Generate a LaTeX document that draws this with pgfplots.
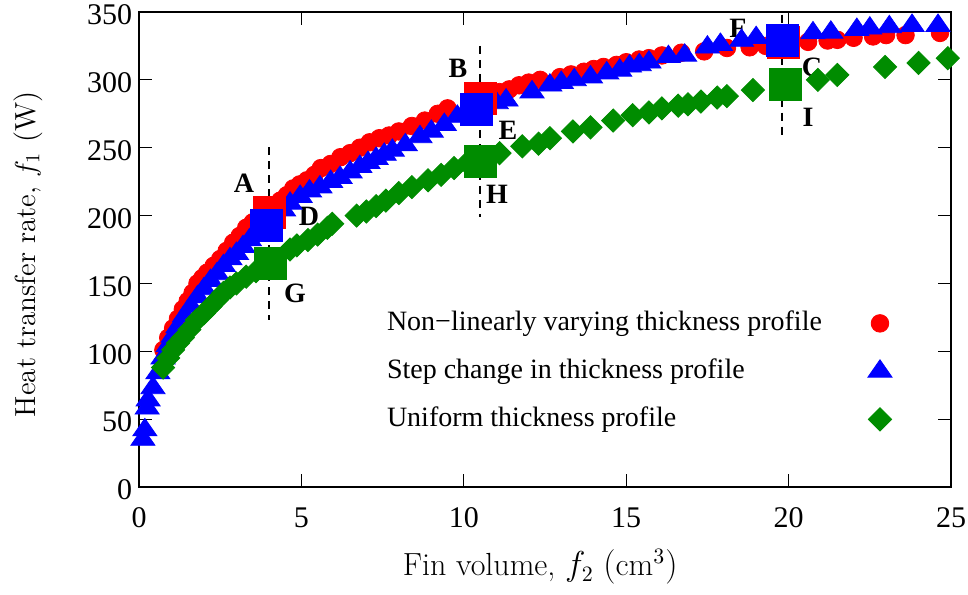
\documentclass[border=0pt]{standalone}
\usepackage{fontspec}
\usepackage{pgfplots}
\pgfplotsset{compat=1.18}
\newfontfamily\tms{Liberation Serif}
\definecolor{mygreen}{rgb}{0,0.55,0}
\begin{document}
\fontsize{14}{17}\selectfont
\begin{tikzpicture}
\begin{axis}[
 scale only axis, width=406pt, height=237.5pt,
 xmin=0, xmax=25, ymin=0, ymax=350,
 xtick={0,5,...,25}, ytick={0,50,...,350},
 tick align=inside, major tick length=6.5pt,
 tick style={black, line width=0.5pt},
 axis line style={line width=1pt},
 /pgf/number format/assume math mode=true,
 ticklabel style={font=\fontsize{15}{18}\tms, inner sep=0.5pt},
 xticklabel style={yshift=-9.8pt},
 yticklabel style={xshift=-2.8pt, yshift=-1.5pt},
 xlabel={Fin volume, $f_2$ $(\mathrm{cm}^3)$},
 ylabel={Heat transfer rate, $f_1$ (W)},
 every axis x label/.style={at={(axis description cs:0.494,-0.168)}, anchor=center, font=\fontsize{16}{19}\selectfont},
 every axis y label/.style={at={(axis description cs:-0.137,0.49)}, rotate=90, anchor=center, font=\fontsize{14.5}{17}\selectfont},
 clip=false,
 legend plot pos=right, legend cell align=left,
 legend style={draw=none, fill=none, font=\tms, inner sep=0pt,
   at={(axis cs:7.5,133.4)}, anchor=north west,
   row sep=7pt, column sep=21pt,
   nodes={text height=10pt, text depth=3pt, inner sep=2pt}},
]
% Non-linearly varying (red circles)
\addplot[only marks, mark=*, color=red, mark size=4.4pt, mark options={fill=red, draw=red}] coordinates {
(0.75,101) (0.9,110) (1.05,117) (1.2,124) (1.35,131) (1.5,137) (1.65,143) (1.8,150) (1.95,154)
(2.1,158) (2.3,163) (2.5,168) (2.7,174) (2.9,180) (3.1,185) (3.3,191) (3.5,195) (3.7,199)
(4.15,206) (4.35,211) (4.55,215) (4.75,220) (4.95,223) (5.17,226) (5.4,230) (5.6,235) (5.9,238)
(6.2,243) (6.5,246) (6.8,250) (7.1,254) (7.4,257) (7.7,259) (8.0,262) (8.4,266) (8.8,270)
(9.2,275) (9.5,279) (10.9,290) (11.1,291) (11.4,293) (11.7,296) (12.0,298) (12.35,300) (12.96,302)
(13.3,304) (13.7,306) (14.0,308) (14.3,309.5) (14.7,311) (15.0,313) (15.4,315) (15.7,316) (16.1,318)
(16.7,320) (17.4,321) (18.1,323.5) (18.8,324) (19.3,325) (20.6,328) (21.2,329) (21.5,329.5)
(22.0,331) (22.6,332) (23.0,333) (23.6,333) (24.66,334.6)
};
\addlegendentry{Non\textminus linearly varying thickness profile}
% Step change (blue triangles)
\addplot[only marks, mark=triangle*, color=blue, mark size=5.8pt, mark options={fill=blue, draw=blue, xscale=1.2}] coordinates {
(0.12,35) (0.18,42) (0.25,58) (0.28,64) (0.43,73) (0.58,84) (0.74,95) (0.9,104) (1.05,111)
(1.2,118) (1.4,126) (1.6,133) (1.8,140) (2.0,146) (2.2,152) (2.4,157) (2.6,163) (2.8,168)
(3.0,172) (3.2,177) (3.4,182) (3.6,186) (4.45,204) (4.65,209) (4.96,214) (5.25,218) (5.57,221)
(5.9,225) (6.19,228) (6.5,232) (6.8,236) (7.05,239) (7.3,242) (7.55,245) (7.8,248) (8.2,252)
(8.65,258) (9.0,262) (9.4,267) (9.8,273) (10.05,275) (11.0,283) (11.3,285) (12.1,291) (12.65,296)
(13.0,298) (13.4,300) (13.9,302) (14.4,305) (14.8,307) (15.1,310) (15.4,311) (15.7,313) (16.3,317)
(16.8,318) (17.5,324) (17.9,326) (18.55,329) (19.0,331) (20.75,334.5) (21.3,335) (22.1,337)
(22.5,338) (23.1,339) (23.8,340) (24.6,340)
};
\addlegendentry{Step change in thickness profile}
% Uniform (green diamonds)
\addplot[only marks, mark=square*, color=mygreen, mark size=4.1pt, mark options={fill=mygreen, draw=mygreen, rotate=45}] coordinates {
(0.74,88) (0.9,95) (1.05,101) (1.2,106) (1.35,110) (1.55,116) (1.78,123) (2.0,128) (2.2,133)
(2.4,138) (2.6,143) (2.8,147) (3.0,150) (3.3,155) (3.6,159) (4.65,175) (4.86,178) (5.2,182)
(5.5,186) (5.8,191) (5.95,194) (6.7,200) (7.0,203) (7.3,207) (7.6,211) (8.0,216.6) (8.4,221)
(8.9,226) (9.3,230) (9.7,235) (10.1,238.7) (11.1,246) (11.8,251) (12.3,253) (12.65,257)
(13.36,262) (13.9,265) (14.6,270) (15.2,274) (15.7,276) (16.1,279) (16.6,281) (16.9,282)
(17.3,284) (17.8,287) (18.1,288) (18.9,292.5) (20.9,300) (21.5,303.6) (22.97,309.5) (24.0,312.5)
(24.9,316)
};
\addlegendentry{Uniform thickness profile}
% dashed guide lines
\addplot[black, line width=1pt, dash pattern=on 4pt off 3pt, forget plot] coordinates {(4,250.5) (4,123)};
\addplot[black, line width=1pt, dash pattern=on 4pt off 3pt, forget plot] coordinates {(10.5,325) (10.5,199)};
\addplot[black, line width=1pt, dash pattern=on 4pt off 3pt, forget plot] coordinates {(19.8,348) (19.8,256)};
% highlighted designs
\addplot[only marks, mark=square*, color=red, mark size=8pt, forget plot] coordinates {(4.0,202) (10.5,286) (19.85,327.5)};
\addplot[only marks, mark=square*, color=blue, mark size=8pt, forget plot] coordinates {(3.92,193) (10.4,278) (19.8,329)};
\addplot[only marks, mark=square*, color=mygreen, mark size=8pt, forget plot] coordinates {(4.06,165) (10.5,240) (19.9,297)};
% labels
\node[font=\tms\bfseries] at (axis cs:3.23,224) {A};
\node[font=\tms\bfseries] at (axis cs:9.82,308.8) {B};
\node[font=\tms\bfseries] at (axis cs:20.72,309.5) {C};
\node[font=\tms\bfseries] at (axis cs:5.23,199.3) {D};
\node[font=\tms\bfseries] at (axis cs:11.36,262.5) {E};
\node[font=\tms\bfseries] at (axis cs:18.44,338) {F};
\node[font=\tms\bfseries] at (axis cs:4.80,143) {G};
\node[font=\tms\bfseries] at (axis cs:11.02,215.5) {H};
\node[font=\tms\bfseries] at (axis cs:20.6,272.6) {I};
\path (axis description cs:-0.1712,-0.2253) rectangle (axis description cs:1.0209,1.0253);
\end{axis}
\end{tikzpicture}
\end{document}
